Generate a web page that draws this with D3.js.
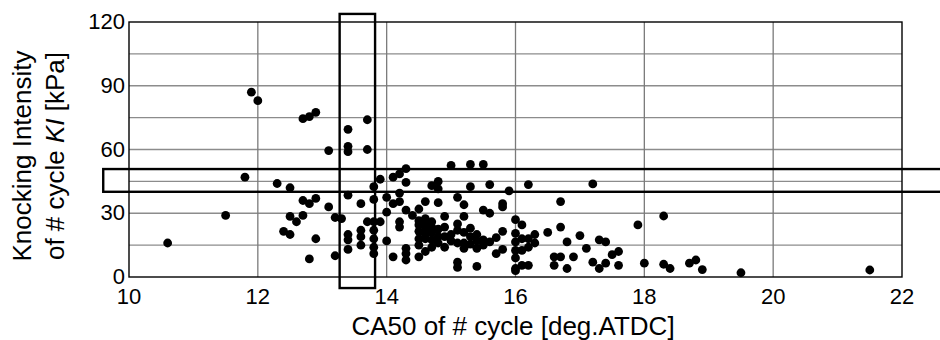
<!DOCTYPE html>
<html>
<head>
<meta charset="utf-8">
<script src="https://cdn.jsdelivr.net/npm/d3@7"></script>
<style>
    body { margin: 0; background: #fff; }
    text { font-family: "Liberation Sans", Arial, sans-serif; fill: #000; }
</style>
</head>
<body>
<div id="chart"></div>
<script>
// CA50 [deg.ATDC], KI [kPa] for each cycle
const cycles = [
    [10.6,16],[11.5,29],[11.8,47],[11.9,87],[12.0,83],[12.3,44],[12.5,42],
    [12.7,74.5],[12.8,75.5],[12.9,77.5],
    [12.7,36],[12.8,34.5],[12.9,37],[12.5,28.5],[12.6,26],[12.7,29],[12.4,21.5],[12.5,20],[12.9,18],[12.8,8.5],
    [13.1,59.5],[13.1,33],[13.2,28],[13.3,27.5],[13.2,10],
    [13.4,69.5],[13.4,61.5],[13.4,59],[13.7,74],[13.7,60],
    [13.4,38.5],[13.6,34.5],[13.4,20],[13.4,17.5],[13.4,13],[13.6,22],[13.6,19],[13.6,15],
    [13.7,26],[13.8,26],[13.9,26],[13.8,42.5],[13.8,36.5],[13.8,22],[13.8,18],[13.8,14],[13.8,11],
    [13.9,46],[14.0,37.5],[14.0,30.5],[14.0,17],[14.1,9.5],[14.1,47],[14.2,48.5],[14.3,51],[14.3,44.5],
    [14.1,34.5],[14.2,39.5],[14.2,35.5],[14.3,31.5],[14.2,26],[14.2,23.5],[14.3,13.5],[14.3,11],[14.3,8],
    [14.4,29],[14.5,32],[14.6,35.5],[14.6,27.5],[14.5,24.5],[14.5,21.5],[14.5,18],[14.5,15],[14.5,9.5],
    [14.6,22],[14.6,18],[14.6,12],[14.7,26],[14.7,21],[14.7,14],[14.7,43],[14.8,45],[14.8,41.5],[14.8,35],[14.8,19],
    [14.9,28.5],[14.9,23.5],[14.9,19],[14.9,14],[15.0,52.5],
    [14.5,26.5],[14.6,24.5],[14.7,23.5],[14.8,22.5],[14.6,20],[14.7,17.5],[14.8,16],[15.0,20],[15.0,17],
    [15.1,37.5],[15.1,25],[15.1,22],[15.1,16],[15.1,7],[15.1,4.5],
    [15.2,34],[15.2,28.5],[15.2,16],[15.2,13.5],[15.2,21],
    [15.3,53],[15.3,42.5],[15.3,23],[15.3,19],[15.3,15.5],
    [15.4,20],[15.4,13.5],[15.4,5],[15.4,17],
    [15.5,53],[15.5,31.5],[15.5,17.5],[15.5,15],
    [15.6,43.5],[15.6,30],[15.6,16.5],[15.7,18.5],
    [15.7,11],[15.8,13],[15.8,34.5],[15.8,33],[15.8,21.5],[15.9,40.5],
    [16.0,27],[16.0,20.5],[16.0,16.5],[16.0,12.5],[16.0,9],[16.0,4],[16.0,3],
    [16.1,24.5],[16.1,18],[16.1,12.5],[16.1,5.5],[16.2,43.5],[16.2,14],[16.2,5.5],[16.2,18],
    [16.3,20],[16.3,16],[16.5,21],[16.7,35.5],[16.7,23.5],[16.8,16.5],[17.0,19.5],
    [16.6,9.5],[16.6,5.5],[16.7,9.5],[16.8,4],[16.9,9.5],
    [17.1,13.5],[17.2,43.8],[18.3,28.7],[17.9,24.5],[17.3,17.5],[17.4,16.5],[17.5,10.5],[17.6,12],
    [17.6,5.5],[17.2,7],[17.3,4],[17.4,6.5],[18.0,6.5],[18.3,6],[18.4,4],[18.7,6.5],[18.8,8],[18.9,3.5],
    [19.5,2],[21.5,3.3]
];

const xTicks = [10, 12, 14, 16, 18, 20, 22];
const yTicks = [0, 30, 60, 90, 120];
const yGrid = [15, 30, 45, 60, 75, 90, 105];

// highlighted bands (data units)
const bandCA50 = [13.27, 13.82];
const bandKI = [40.1, 50.8];

function drawChart(id) {

    const width = 940;
    const height = 340;
    const left = 129, right = 902, top = 22, bottom = 277;

    const x = d3.scaleLinear().domain([10, 22]).range([left, right]);
    const y = d3.scaleLinear().domain([0, 120]).range([bottom, top]);

    let svg = d3.select(id)
        .append("svg")
        .attr("width", width)
        .attr("height", height);

    // grid
    svg.selectAll(".hgrid")
        .data(yGrid)
        .enter()
        .append("line")
        .attr("x1", left)
        .attr("x2", right)
        .attr("y1", function(d) {return y(d);})
        .attr("y2", function(d) {return y(d);})
        .attr("stroke", "#8c8c8c")
        .attr("stroke-width", 1.3);

    svg.selectAll(".vgrid")
        .data(xTicks.slice(1, -1))
        .enter()
        .append("line")
        .attr("x1", function(d) {return x(d);})
        .attr("x2", function(d) {return x(d);})
        .attr("y1", top)
        .attr("y2", bottom)
        .attr("stroke", "#7a7a7a")
        .attr("stroke-width", 1.3);

    // frame
    svg.append("rect")
        .attr("x", left)
        .attr("y", top)
        .attr("width", right - left)
        .attr("height", bottom - top)
        .attr("fill", "none")
        .attr("stroke", "#000")
        .attr("stroke-width", 1.4);

    // points
    svg.selectAll("circle")
        .data(cycles)
        .enter()
        .append("circle")
        .attr("cx", function(d) {return x(d[0]);})
        .attr("cy", function(d) {return y(d[1]);})
        .attr("r", 4.4)
        .attr("fill", "#000");

    // highlight boxes
    svg.append("rect")
        .attr("x", x(bandCA50[0]))
        .attr("y", y(123.8))
        .attr("width", x(bandCA50[1]) - x(bandCA50[0]))
        .attr("height", y(-5.2) - y(123.8))
        .attr("fill", "none")
        .attr("stroke", "#000")
        .attr("stroke-width", 2.4);

    svg.append("rect")
        .attr("x", x(9.6))
        .attr("y", y(bandKI[1]))
        .attr("width", x(23) - x(9.6))
        .attr("height", y(bandKI[0]) - y(bandKI[1]))
        .attr("fill", "none")
        .attr("stroke", "#000")
        .attr("stroke-width", 2.4);

    // tick labels
    svg.selectAll(".xlab")
        .data(xTicks)
        .enter()
        .append("text")
        .attr("x", function(d) {return x(d);})
        .attr("y", bottom + 27)
        .attr("text-anchor", "middle")
        .attr("font-size", 22)
        .text(function(d) {return d;});

    svg.selectAll(".ylab")
        .data(yTicks)
        .enter()
        .append("text")
        .attr("x", left - 4)
        .attr("y", function(d) {return y(d) + 7;})
        .attr("text-anchor", "end")
        .attr("font-size", 22)
        .text(function(d) {return d;});

    // axis titles
    svg.append("text")
        .attr("x", 513)
        .attr("y", 335)
        .attr("text-anchor", "middle")
        .attr("font-size", 26)
        .text("CA50 of # cycle [deg.ATDC]");

    svg.append("text")
        .attr("transform", "translate(31,156) rotate(-90)")
        .attr("text-anchor", "middle")
        .attr("font-size", 26)
        .text("Knocking Intensity");

    let t2 = svg.append("text")
        .attr("transform", "translate(64,156) rotate(-90)")
        .attr("text-anchor", "middle")
        .attr("font-size", 26);
    t2.append("tspan").text("of # cycle ");
    t2.append("tspan").attr("font-style", "italic").text("KI");
    t2.append("tspan").text(" [kPa]");
}

drawChart("#chart");
</script>
</body>
</html>
